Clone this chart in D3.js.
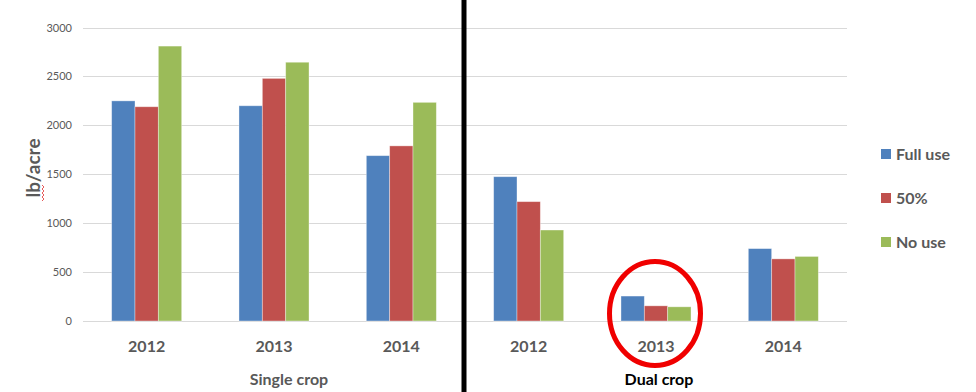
<!DOCTYPE html>
<html>
<head>
<meta charset="utf-8">
<script src="https://cdn.jsdelivr.net/npm/d3@7"></script>
<style>
  body { margin: 0; background: #fff; }
  svg { display: block; font-family: Lato, "Open Sans", sans-serif; }
</style>
</head>
<body>
<svg id="chart"></svg>
<script>
// data
const years = ["2012", "2013", "2014"];
const panels = ["Single crop", "Dual crop"];
const seriesNames = ["Full use", "50%", "No use"];
const colors = ["#4F81BD", "#C0504D", "#9BBB59"];
const fullUse = [2250, 2200, 1690, 1475, 255, 740];
const halfUse = [2190, 2480, 1790, 1220, 155, 635];
const noUse = [2810, 2645, 2235, 930, 145, 660];
const yTicks = [0, 500, 1000, 1500, 2000, 2500, 3000];

const width = 976, height = 392;
const svg = d3.select("#chart").attr("width", width).attr("height", height);

// one key per panel/year pair
const keys = [];
panels.forEach(p => years.forEach(y => keys.push(p + "|" + y)));
const series = [fullUse, halfUse, noUse];

const x = d3.scaleBand().domain(keys).range([83, 847])
  .paddingInner(0.45).paddingOuter(0.225);
const xs = d3.scaleBand().domain(seriesNames).range([0, x.bandwidth()]);
const y = d3.scaleLinear().domain([0, 3000]).range([321, 27.5]);

// gridlines
svg.append("g")
  .selectAll("line")
  .data(yTicks)
  .enter().append("line")
    .attr("x1", 83).attr("x2", 847)
    .attr("y1", d => Math.round(y(d)) + 0.5)
    .attr("y2", d => Math.round(y(d)) + 0.5)
    .attr("stroke", "#D9D9D9")
    .attr("stroke-width", 1);

// tick labels
svg.append("g")
  .selectAll("text")
  .data(yTicks)
  .enter().append("text")
    .attr("x", 72)
    .attr("y", d => y(d) + 4)
    .attr("text-anchor", "end")
    .attr("fill", "#595959")
    .style("font-size", "11px")
    .text(d => d);

// bars
const rows = [];
keys.forEach((k, i) => {
  seriesNames.forEach((s, j) => {
    rows.push({ key: k, name: s, value: series[j][i], color: colors[j] });
  });
});

svg.append("g")
  .selectAll("rect")
  .data(rows)
  .enter().append("rect")
    .attr("x", d => x(d.key) + xs(d.name))
    .attr("y", d => y(d.value))
    .attr("width", xs.bandwidth())
    .attr("height", d => y(0) - y(d.value))
    .attr("fill", d => d.color)
    .attr("stroke", "#ffffff")
    .attr("stroke-opacity", 0.45)
    .attr("stroke-width", 0.8);

// category labels
svg.append("g")
  .selectAll("text")
  .data(keys)
  .enter().append("text")
    .attr("x", d => x(d) + x.bandwidth() / 2)
    .attr("y", 351.5)
    .attr("text-anchor", "middle")
    .attr("fill", "#595959")
    .style("font-size", "16px")
    .style("font-weight", "bold")
    .text(d => d.split("|")[1]);

// panel titles
const panelX = [x(keys[1]) + x.bandwidth() / 2 + 15, x(keys[4]) + x.bandwidth() / 2 + 3];
const panelColor = ["#595959", "#000000"];
svg.append("g")
  .selectAll("text")
  .data(panels)
  .enter().append("text")
    .attr("x", (d, i) => panelX[i])
    .attr("y", 385)
    .attr("text-anchor", "middle")
    .attr("fill", (d, i) => panelColor[i])
    .style("font-size", "16px")
    .style("font-weight", "bold")
    .text(d => d);

// divider between the two panels
const divX = x(keys[3]) - x.step() * x.paddingInner() / 2 - 1;
svg.append("line")
  .attr("x1", divX).attr("x2", divX)
  .attr("y1", 0).attr("y2", height)
  .attr("stroke", "#000")
  .attr("stroke-width", 5);

// y axis title
svg.append("text")
  .attr("transform", "translate(40,168) rotate(-90)")
  .attr("text-anchor", "middle")
  .attr("fill", "#595959")
  .style("font-size", "19px")
  .style("font-weight", "bold")
  .text("lb/acre");

// spell-check squiggle under "lb"
let sq = "M42,201";
for (let i = 0; i < 8; i++) sq += " L" + (i % 2 ? 42 : 44) + "," + (199 - i * 2);
svg.append("path")
  .attr("d", sq)
  .attr("fill", "none")
  .attr("stroke", "#E03030")
  .attr("stroke-width", 0.8);

// red circle around dual crop 2013
svg.append("ellipse")
  .attr("cx", x(keys[4]) + x.bandwidth() / 2 - 1)
  .attr("cy", 313.5)
  .attr("rx", 45.5)
  .attr("ry", 52)
  .attr("fill", "none")
  .attr("stroke", "#F00000")
  .attr("stroke-width", 5);

// legend
const legend = svg.append("g")
  .selectAll("g")
  .data(seriesNames)
  .enter().append("g")
    .attr("transform", (d, i) => "translate(881," + (149 + i * 44) + ")");

legend.append("rect")
  .attr("width", 10).attr("height", 10)
  .attr("fill", (d, i) => colors[i]);

legend.append("text")
  .attr("x", 15)
  .attr("y", 10.5)
  .attr("fill", "#595959")
  .style("font-size", "16px")
  .style("font-weight", "bold")
  .text(d => d);
</script>
</body>
</html>
